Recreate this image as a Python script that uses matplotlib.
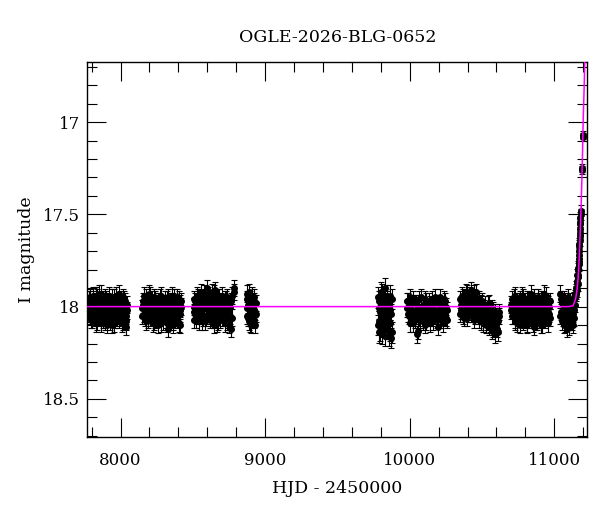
import numpy as np
import matplotlib
matplotlib.use('Agg')
import matplotlib.pyplot as plt
from matplotlib.ticker import MultipleLocator, FormatStrFormatter

title = 'OGLE-2026-BLG-0652'

# observing seasons, HJD - 2450000 and I magnitude (two frames per night: m and mb)
t1 = [7779, 7784, 7790, 7795, 7801, 7806, 7812, 7818, 7823, 7829, 7834, 7840, 7846, 7851, 7857, 7862, 7868,
      7874, 7879, 7885, 7890, 7896, 7902, 7907, 7913, 7918, 7924, 7930, 7935, 7941, 7946, 7952, 7958, 7963,
      7969, 7974, 7980, 7986, 7991, 7997, 8002, 8008, 8014, 8019, 8025, 8030, 8036, 8041, 8047]
m1 = [18.02, 17.96, 18.05, 17.99, 18.07, 17.94, 18.01, 18.04, 17.97, 18.09, 18.00, 17.95, 18.03, 18.06,
      17.98, 18.02, 17.93, 18.05, 18.01, 17.97, 18.08, 18.03, 17.96, 18.00, 18.06, 17.94, 18.04, 18.02,
      17.98, 18.10, 17.99, 18.03, 17.95, 18.07, 18.01, 17.97, 18.05, 18.02, 17.93, 18.06, 18.00, 17.98,
      18.04, 18.08, 17.96, 18.02, 18.11, 18.05, 17.99]
m1b = [17.98, 18.04, 17.95, 18.07, 18.01, 18.03, 17.96, 18.06, 18.02, 17.94, 18.05, 18.08, 17.99, 17.93,
       18.04, 18.09, 18.00, 17.96, 18.07, 18.03, 17.95, 18.01, 18.06, 18.10, 17.97, 18.04, 17.99, 18.08,
       18.02, 17.95, 18.05, 17.98, 18.09, 18.01, 17.94, 18.06, 17.99, 18.03, 18.07, 17.96, 18.04, 18.09,
       17.95, 18.01, 18.06, 17.97, 18.03, 18.08, 18.02]

t2 = [8150, 8157, 8162, 8168, 8175, 8180, 8186, 8193, 8198, 8204, 8211, 8216, 8222, 8229, 8234, 8240, 8247,
      8252, 8258, 8265, 8270, 8276, 8283, 8288, 8294, 8301, 8306, 8312, 8319, 8326, 8330, 8337, 8342, 8348,
      8355, 8360, 8366, 8373, 8378, 8384, 8391, 8396, 8402, 8409, 8414, 8420]
m2 = [18.01, 17.97, 18.04, 18.06, 17.95, 18.02, 17.99, 18.07, 18.03, 17.94, 18.00, 18.05, 17.98, 18.08,
      18.02, 17.96, 18.04, 18.01, 17.97, 18.06, 18.03, 17.95, 18.09, 18.00, 18.04, 17.98, 18.02, 18.07,
      17.96, 18.12, 18.01, 18.05, 17.99, 18.03, 17.94, 18.10, 17.97, 18.04, 18.01, 18.06, 17.95, 18.02,
      18.09, 17.98, 18.04, 18.00]
m2b = [18.05, 17.99, 17.94, 18.02, 18.08, 17.97, 18.04, 18.00, 17.93, 18.06, 18.03, 17.96, 18.09, 18.01,
       17.95, 18.07, 17.98, 18.05, 18.10, 17.97, 18.00, 18.06, 17.94, 18.03, 18.08, 18.01, 17.96, 18.04,
       18.09, 17.99, 17.95, 18.07, 18.02, 17.97, 18.06, 18.01, 18.08, 17.95, 18.03, 17.98, 18.07, 18.04,
       17.96, 18.10, 18.02, 17.97]

t3 = [8505, 8511, 8518, 8523, 8529, 8536, 8541, 8547, 8554, 8559, 8565, 8572, 8577, 8583, 8590, 8595, 8601,
      8608, 8613, 8619, 8626, 8631, 8637, 8644, 8649, 8655, 8662, 8667, 8673, 8680, 8685, 8691, 8698, 8703,
      8709, 8716, 8721, 8727, 8734, 8739, 8745, 8752, 8757, 8763, 8769, 8784]
m3 = [18.00, 17.96, 18.04, 18.07, 17.94, 18.02, 17.98, 18.05, 17.92, 18.03, 18.08, 17.97, 18.01, 17.95,
      18.06, 17.90, 17.99, 18.02, 18.04, 18.07, 17.96, 18.03, 18.00, 18.10, 17.93, 17.91, 17.98, 18.02,
      18.08, 17.95, 18.04, 18.01, 17.97, 18.06, 18.03, 17.99, 18.09, 17.96, 18.04, 18.02, 18.07, 17.98,
      18.05, 18.12, 17.94, 17.90]
m3b = [18.03, 18.07, 17.97, 18.01, 18.05, 17.95, 18.08, 18.00, 18.04, 17.96, 18.02, 18.06, 17.93, 18.08,
       18.00, 17.97, 18.05, 17.94, 18.01, 17.98, 18.06, 17.92, 18.04, 18.02, 18.07, 17.97, 18.03, 18.09,
       17.95, 18.01, 17.98, 18.07, 18.04, 17.94, 18.00, 18.06, 17.96, 18.02, 18.08, 17.95, 18.03, 18.10,
       18.00, 17.97, 18.06, 17.92]

t4 = [8872, 8877, 8881, 8887, 8892, 8896, 8902, 8907, 8911, 8917, 8922, 8926, 8932, 8936]
m4 = [17.93, 18.05, 17.99, 18.08, 17.96, 18.02, 18.10, 17.97, 18.04, 18.01, 17.95, 18.07, 18.03, 17.98]
m4b = [18.01, 17.96, 18.06, 17.92, 18.03, 18.09, 17.98, 18.05, 17.94, 18.07, 18.02, 17.97, 18.10, 18.04]

t5 = [9781, 9786, 9790, 9796, 9801, 9805, 9811, 9816, 9820, 9826, 9831, 9835, 9841, 9846, 9850, 9856,
      9861, 9865, 9871, 9877]
m5 = [17.95, 18.08, 18.01, 18.13, 17.92, 18.05, 18.15, 17.98, 18.10, 18.03, 17.90, 18.07, 18.12, 17.97,
      18.02, 18.16, 17.94, 18.09, 18.04, 18.14]
m5b = [18.10, 17.97, 18.14, 18.03, 18.07, 17.93, 18.11, 18.05, 17.96, 18.16, 18.08, 18.01, 17.94, 18.12,
       18.06, 17.99, 18.13, 18.02, 18.17, 17.96]

t6 = [9978, 9985, 9994, 10003, 10010, 10017, 10026, 10035, 10042, 10049, 10058, 10067, 10074, 10081,
      10090, 10099, 10106, 10113, 10122, 10131, 10138, 10145, 10154, 10163, 10170, 10177, 10186, 10195,
      10202, 10209, 10218, 10227, 10234, 10241, 10250, 10259]
m6 = [18.01, 17.97, 18.05, 18.09, 17.99, 18.03, 17.96, 18.07, 17.98, 18.02, 18.13, 18.06, 18.04, 17.95,
      18.08, 18.01, 18.10, 17.97, 18.03, 18.06, 17.99, 18.04, 17.96, 18.08, 18.02, 18.05, 17.98, 18.11,
      18.03, 17.95, 18.07, 18.00, 18.04, 17.97, 18.06, 18.02]
m6b = [17.97, 18.04, 18.00, 17.95, 18.06, 18.02, 18.09, 17.98, 18.05, 18.15, 18.01, 17.96, 18.07, 18.03,
       17.99, 18.05, 17.96, 18.08, 18.01, 17.97, 18.09, 18.03, 18.06, 17.99, 18.04, 17.95, 18.07, 18.02,
       17.98, 18.05, 18.01, 18.09, 17.96, 18.04, 18.00, 18.07]

t7 = [10346, 10352, 10360, 10367, 10373, 10381, 10388, 10394, 10402, 10409, 10415, 10423, 10430, 10436,
      10444, 10451, 10457, 10465, 10472, 10478, 10486, 10493, 10499, 10507, 10514, 10520, 10528, 10535,
      10541, 10549, 10556, 10562, 10570, 10577, 10583, 10591, 10598, 10604, 10612, 10619]
m7 = [18.04, 17.99, 18.02, 17.95, 18.06, 17.97, 18.01, 17.93, 18.04, 17.96, 18.00, 17.91, 18.03, 17.95,
      18.07, 17.98, 17.92, 18.02, 18.05, 17.96, 18.00, 18.08, 17.97, 18.03, 18.06, 17.99, 18.10, 18.02,
      18.05, 17.98, 18.09, 18.04, 18.01, 18.12, 18.06, 18.03, 18.10, 18.07, 18.14, 18.05]
m7b = [17.96, 18.02, 17.94, 18.05, 17.99, 18.03, 17.92, 18.06, 17.98, 18.01, 17.94, 18.04, 17.97, 18.00,
       17.93, 18.05, 18.01, 17.96, 17.99, 18.07, 18.03, 17.98, 18.05, 18.09, 18.01, 18.06, 18.03, 18.08,
       17.99, 18.11, 18.04, 18.07, 18.13, 18.02, 18.09, 18.15, 18.05, 18.12, 18.08, 18.03]

t8 = [10701, 10706, 10713, 10718, 10725, 10730, 10737, 10742, 10749, 10754, 10761, 10766, 10773, 10778,
      10785, 10790, 10797, 10802, 10809, 10814, 10821, 10826, 10833, 10838, 10845, 10850, 10857, 10862,
      10869, 10874, 10881, 10886, 10893, 10898, 10905, 10910, 10917, 10922, 10929, 10934, 10941, 10946,
      10953, 10958, 10965, 10972]
m8 = [18.02, 17.96, 18.05, 17.99, 18.08, 17.94, 18.03, 18.01, 18.06, 17.97, 18.04, 18.10, 17.98, 18.02,
      17.95, 18.07, 18.00, 18.04, 17.96, 18.09, 18.03, 17.99, 18.06, 17.93, 18.01, 18.05, 18.11, 17.97,
      18.03, 18.08, 18.00, 17.95, 18.04, 18.07, 17.98, 18.02, 18.10, 17.96, 18.05, 18.01, 17.94, 18.06,
      18.03, 17.99, 18.04, 17.97]
m8b = [17.99, 18.05, 18.01, 17.95, 18.03, 18.07, 17.97, 18.09, 18.00, 18.04, 17.96, 18.02, 18.06, 17.94,
       18.08, 18.01, 17.97, 18.05, 18.10, 18.00, 17.96, 18.07, 18.02, 18.05, 17.98, 18.09, 18.03, 17.95,
       18.06, 18.01, 18.08, 18.04, 17.97, 18.02, 18.10, 17.96, 18.05, 18.01, 17.93, 18.07, 18.03, 17.98,
       18.09, 18.05, 18.00, 18.06]

t9 = [11042, 11048, 11053, 11058, 11064, 11069, 11075, 11080, 11086, 11091, 11097, 11102, 11108, 11114]
m9 = [17.93, 18.03, 17.98, 18.06, 18.01, 17.96, 18.09, 18.02, 17.99, 18.07, 18.04, 18.11, 17.97, 18.05]
m9b = [18.05, 17.96, 18.08, 17.99, 18.03, 18.10, 17.97, 18.05, 18.12, 18.00, 17.95, 18.04, 18.08, 18.01]

# typical photometric error per season
season_err = [0.045, 0.045, 0.045, 0.045, 0.055, 0.045, 0.045, 0.045, 0.045]

# rising part of the event
t_rise = [11120, 11122, 11125, 11128, 11130, 11133, 11135, 11138, 11140, 11145, 11149, 11150, 11153,
          11155, 11157, 11159, 11160, 11162, 11163, 11165, 11166, 11167, 11168, 11169, 11170, 11171,
          11172, 11173, 11174, 11175, 11176, 11177, 11178, 11179, 11180, 11181, 11182, 11183,
          11191, 11193, 11198, 11199]
m_rise = [18.02, 18.08, 17.97, 18.10, 18.04, 18.06, 17.96, 18.02, 17.99, 17.95, 17.93, 17.92, 17.90,
          17.87, 17.91, 17.83, 17.86, 17.88, 17.84, 17.79, 17.80, 17.83, 17.77, 17.72, 17.74, 17.76,
          17.70, 17.67, 17.66, 17.64, 17.62, 17.60, 17.58, 17.54, 17.55, 17.52, 17.50, 17.48,
          17.26, 17.25, 17.08, 17.07]
e_rise = [0.045, 0.045, 0.045, 0.045, 0.045, 0.045, 0.04, 0.04, 0.04, 0.04, 0.04, 0.04, 0.04,
          0.04, 0.04, 0.035, 0.035, 0.035, 0.035, 0.035, 0.035, 0.035, 0.035, 0.035, 0.035, 0.035,
          0.035, 0.03, 0.03, 0.03, 0.03, 0.03, 0.03, 0.03, 0.03, 0.03, 0.03, 0.03,
          0.02, 0.02, 0.02, 0.02]

# microlensing model curve
model_t = [7760, 11100, 11130, 11147, 11157, 11165, 11172, 11178, 11184, 11190, 11195, 11200, 11205,
           11210, 11214]
model_m = [18.0, 18.0, 17.995, 17.96, 17.91, 17.84, 17.74, 17.62, 17.49, 17.33, 17.17, 16.98, 16.85,
           16.70, 16.55]

plt.rcParams['font.family'] = ['DejaVu Serif']

seasons = [(t1, m1, m1b), (t2, m2, m2b), (t3, m3, m3b), (t4, m4, m4b), (t5, m5, m5b),
           (t6, m6, m6b), (t7, m7, m7b), (t8, m8, m8b), (t9, m9, m9b)]

fig = plt.figure(figsize=(6.0, 5.12), dpi=100)
ax = fig.add_axes([0.1455, 0.147, 0.8333, 0.7325])

style = dict(fmt='o', color='black', ms=4, elinewidth=0.8, capsize=2.5, capthick=0.8, zorder=2)
for (t, m, mb), err in zip(seasons, season_err):
    ax.errorbar(t, m, yerr=np.full(len(m), err), **style)
    ax.errorbar(t, mb, yerr=np.full(len(mb), err), **style)
ax.errorbar(t_rise, m_rise, yerr=e_rise, **style)

ax.plot(model_t, model_m, color='#ff00ff', lw=1.1, zorder=3)

ax.set_xlim(7770, 11228)
ax.set_ylim(18.705, 16.673)

ax.xaxis.set_major_locator(MultipleLocator(1000))
ax.xaxis.set_minor_locator(MultipleLocator(200))
ax.yaxis.set_major_locator(MultipleLocator(0.5))
ax.yaxis.set_minor_locator(MultipleLocator(0.1))
ax.yaxis.set_major_formatter(FormatStrFormatter('%g'))

ax.tick_params(which='both', direction='in', top=True, right=True, width=0.8, labelsize=12)
ax.tick_params(which='major', length=14)
ax.tick_params(which='minor', length=7)
ax.tick_params(axis='x', pad=11)
ax.tick_params(axis='y', pad=5)
for s in ax.spines.values():
    s.set_linewidth(1.0)

ax.set_xlabel('HJD - 2450000', fontsize=12.5, labelpad=8)
ax.set_ylabel('I magnitude', fontsize=12.5, labelpad=6)
ax.set_title(title, fontsize=12.5, pad=14)

plt.savefig('out.png', dpi=100)
